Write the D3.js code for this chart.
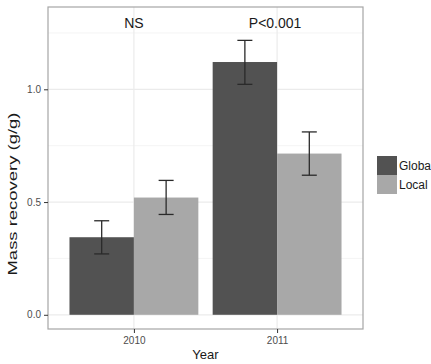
<!DOCTYPE html>
<html><head><meta charset="utf-8">
<script src="https://cdn.jsdelivr.net/npm/d3@7"></script>
<style>body{margin:0;background:#fff;} text{font-family:"Liberation Sans",Arial,sans-serif;}</style>
</head><body>
<svg id="c" width="431" height="364"></svg>
<script>
const years = ["2010", "2011"];
const groups = ["Globa", "Local"];
const meanGlobal = [0.344, 1.121];
const meanLocal = [0.520, 0.715];
const lowGlobal = [0.270, 1.022];
const highGlobal = [0.417, 1.217];
const lowLocal = [0.445, 0.619];
const highLocal = [0.596, 0.811];
const annotations = ["NS", "P<0.001"];
const yTicks = [0.0, 0.5, 1.0];
const yMinor = [0.25, 0.75, 1.25];
const colors = ["#525252", "#a8a8a8"];

const data = [];
years.forEach((yr, i) => {
  data.push({year: yr, group: groups[0], v: meanGlobal[i], lo: lowGlobal[i], hi: highGlobal[i]});
  data.push({year: yr, group: groups[1], v: meanLocal[i], lo: lowLocal[i], hi: highLocal[i]});
});

const svg = d3.select("#c");
const L = 48, R = 363, T = 7, B = 329;
const y = d3.scaleLinear().domain([-0.063, 1.365]).range([B, T]);
const x = d3.scalePoint().domain(years).range([L, R]).padding(0.6);
const step = x.step();
const xSub = d3.scaleBand().domain(groups).range([-0.45 * step, 0.45 * step]);
const color = d3.scaleOrdinal().domain(groups).range(colors);

// grid
const g = svg.append("g");
g.selectAll(".minor").data(yMinor).join("line")
  .attr("x1", L).attr("x2", R).attr("y1", d => y(d)).attr("y2", d => y(d))
  .attr("stroke", "#f4f4f4").attr("stroke-width", 1);
g.selectAll(".major").data(yTicks).join("line")
  .attr("x1", L).attr("x2", R).attr("y1", d => y(d)).attr("y2", d => y(d))
  .attr("stroke", "#ebebeb").attr("stroke-width", 1.2);
g.selectAll(".vmaj").data(years).join("line")
  .attr("x1", d => x(d)).attr("x2", d => x(d)).attr("y1", T).attr("y2", B)
  .attr("stroke", "#ebebeb").attr("stroke-width", 1.2);

// bars
svg.append("g").selectAll("rect").data(data).join("rect")
  .attr("x", d => x(d.year) + xSub(d.group))
  .attr("width", xSub.bandwidth())
  .attr("y", d => y(d.v))
  .attr("height", d => y(0) - y(d.v))
  .attr("fill", d => color(d.group));

// error bars
const eb = svg.append("g").attr("stroke", "#2a2a2a").attr("stroke-width", 1.3).attr("fill", "none");
data.forEach(d => {
  const cx = x(d.year) + xSub(d.group) + xSub.bandwidth() / 2;
  const hw = 7.5;
  eb.append("line").attr("x1", cx).attr("x2", cx).attr("y1", y(d.lo)).attr("y2", y(d.hi));
  eb.append("line").attr("x1", cx - hw).attr("x2", cx + hw).attr("y1", y(d.lo)).attr("y2", y(d.lo));
  eb.append("line").attr("x1", cx - hw).attr("x2", cx + hw).attr("y1", y(d.hi)).attr("y2", y(d.hi));
});

// panel border
svg.append("rect").attr("x", L).attr("y", T).attr("width", R - L).attr("height", B - T)
  .attr("fill", "none").attr("stroke", "#a6a6a6").attr("stroke-width", 1.2);

// axes
const yAxis = d3.axisLeft(y).tickValues(yTicks).tickFormat(d3.format(".1f")).tickSize(4).tickPadding(3);
const ya = svg.append("g").attr("transform", `translate(${L},0)`).call(yAxis);
ya.select(".domain").remove();
ya.selectAll("line").attr("stroke", "#333");
ya.selectAll("text").attr("fill", "#4d4d4d").style("font-size", "10px").style("font-family", "Liberation Sans, Arial, sans-serif");

const xAxis = d3.axisBottom(x).tickSize(4).tickPadding(4);
const xa = svg.append("g").attr("transform", `translate(0,${B})`).call(xAxis);
xa.select(".domain").remove();
xa.selectAll("line").attr("stroke", "#333");
xa.selectAll("text").attr("fill", "#4d4d4d").style("font-size", "10px").style("font-family", "Liberation Sans, Arial, sans-serif");

// annotations
svg.selectAll(".ann").data(annotations).join("text")
  .attr("x", (d, i) => x(years[i]) - (i === 1 ? 2 : 0))
  .attr("y", 28)
  .attr("text-anchor", "middle")
  .attr("fill", "#1a1a1a")
  .style("font-size", "14px")
  .text(d => d);

// axis titles
svg.append("text").attr("x", (L + R) / 2).attr("y", 359).attr("text-anchor", "middle")
  .attr("fill", "#1a1a1a").style("font-size", "13px").text("Year");
svg.append("text").attr("transform", "translate(17,194) rotate(-90)").attr("text-anchor", "middle")
  .attr("fill", "#1a1a1a").style("font-size", "12px")
  .attr("textLength", 163).attr("lengthAdjust", "spacingAndGlyphs")
  .text("Mass recovery (g/g)");

// legend
const lg = svg.append("g").attr("transform", "translate(377,156)");
groups.forEach((gname, i) => {
  lg.append("rect").attr("x", 0).attr("y", i * 19).attr("width", 20).attr("height", 19)
    .attr("fill", color(gname));
  lg.append("text").attr("x", 22).attr("y", i * 19 + 14).attr("fill", "#1a1a1a")
    .style("font-size", "12px").text(gname);
});
</script>
</body></html>
